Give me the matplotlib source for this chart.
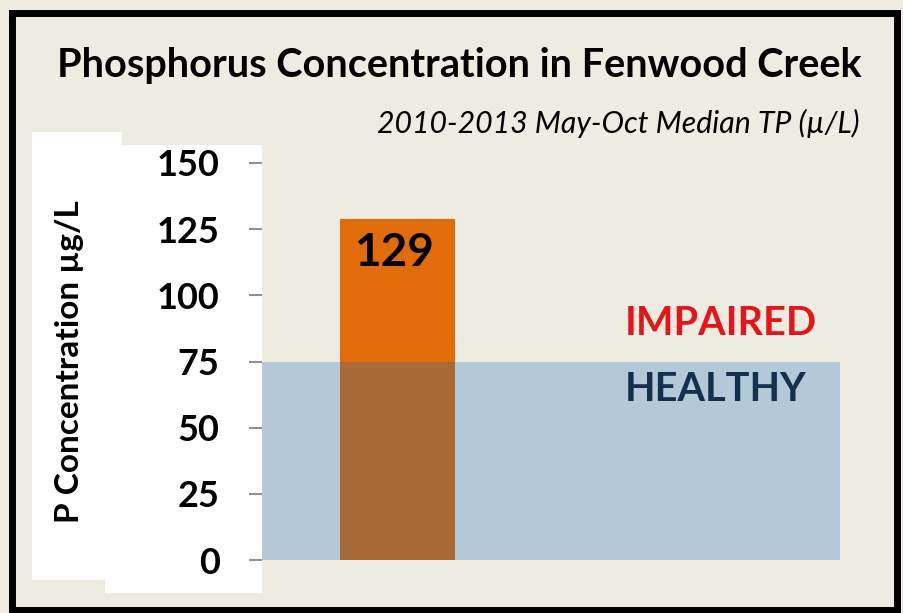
import matplotlib.pyplot as plt
from matplotlib.patches import Rectangle

# Datos
categories = ["Fenwood Creek"]
values = [129]
threshold = 75
yticks = [0, 25, 50, 75, 100, 125, 150]

BG = "#eeebe0"
ORANGE = "#e36c0a"
BAND = (0.01, 0.40, 0.75, 0.25)

W, H = 904, 613
fig = plt.figure(figsize=(W / 100, H / 100), dpi=100, facecolor=BG)
plt.rcParams["font.family"] = ["Lato", "DejaVu Sans"]


def px(x0, y0, x1, y1):
    # caja en pixeles -> coordenadas de figura
    return [x0 / W, 1 - y1 / H, (x1 - x0) / W, (y1 - y0) / H]


# marco negro
fig.patches.append(Rectangle((12.5 / W, 1 - 610 / H), (897 - 12.5) / W, (610 - 13) / H,
                             transform=fig.transFigure, fill=False, ec="black", lw=5, zorder=-1))
# fondos blancos detras del eje y
fig.patches.append(Rectangle((32 / W, 1 - 580 / H), 90 / W, 448 / H,
                             transform=fig.transFigure, fc="white", ec="none", zorder=-1))
fig.patches.append(Rectangle((105 / W, 1 - 593 / H), 157 / W, 448 / H,
                             transform=fig.transFigure, fc="white", ec="none", zorder=-1))

ax = fig.add_axes(px(262, 163, 840, 560))
ax.set_zorder(1)
ax.set_facecolor("none")
ax.set_xlim(0, 1)
ax.set_ylim(0, 150)

ax.bar([0.235], values, width=0.199, color=ORANGE, zorder=2)
ax.axhspan(0, threshold, color=BAND, zorder=3, lw=0)
ax.text(0.228, values[0] - 5, str(values[0]), ha="center", va="top",
        fontsize=33, fontweight="bold", color="black", zorder=4)
ax.text(0.627, 89.5, "IMPAIRED", ha="left", va="center",
        fontsize=28.5, fontweight="bold", color="#e8141c", zorder=4)
ax.text(0.627, 64.5, "HEALTHY", ha="left", va="center",
        fontsize=28.5, fontweight="bold", color="#14304d", zorder=4)

for s in ax.spines.values():
    s.set_visible(False)
ax.set_xticks([])
ax.set_yticks(yticks)
ax.tick_params(axis="y", length=9.5, width=1.5, color="#909090", pad=21,
               labelsize=26, labelcolor="black")
for lab in ax.get_yticklabels():
    lab.set_fontweight("bold")
ax.set_ylabel("P Concentration µg/L", fontsize=24, fontweight="bold")
ax.yaxis.set_label_coords(-0.308, 0.5)

fig.text(459 / W, 1 - 65 / H, "Phosphorus Concentration in Fenwood Creek", ha="center",
         va="center", fontsize=28.5, fontweight="bold", color="black")
fig.text(860 / W, 1 - 123 / H, "2010-2013 May-Oct Median TP (µ/L)", ha="right",
         va="center", fontsize=21.8, style="italic", color="black")

fig.savefig("out.png", dpi=100, facecolor=BG)
